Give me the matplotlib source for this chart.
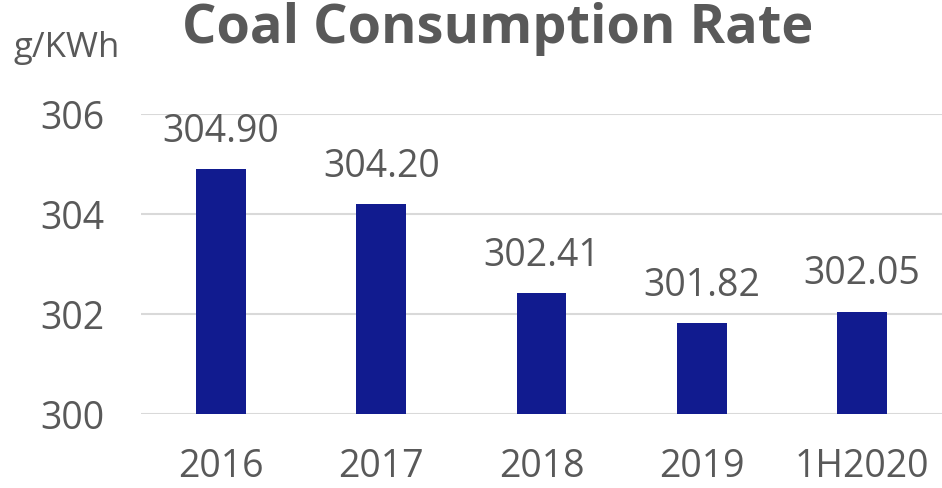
import matplotlib
matplotlib.use("Agg")
import matplotlib.pyplot as plt

categories = ["2016", "2017", "2018", "2019", "1H2020"]
values = [304.90, 304.20, 302.41, 301.82, 302.05]
labels = ["304.90", "304.20", "302.41", "301.82", "302.05"]
yticks = [300, 302, 304, 306]

plt.rcParams['font.family'] = ['Open Sans', 'DejaVu Sans']
TXT = "#595959"
BAR = "#111B8F"

fig = plt.figure(figsize=(9.42, 4.89), dpi=100)
ax = fig.add_axes([141/942, 1-415/489, (942-141)/942, 300/489])

x = list(range(len(categories)))
ax.bar(x, values, width=0.31, color=BAR, bottom=0, zorder=3)
ax.set_ylim(300, 306)
ax.set_xlim(-0.5, len(categories)-0.5)
ax.set_yticks(yticks)
ax.set_yticklabels([str(t) for t in yticks])
ax.set_xticks(x)
ax.set_xticklabels(categories)
ax.tick_params(axis='both', length=0, labelsize=27, colors=TXT)
ax.tick_params(axis='y', pad=26)
ax.tick_params(axis='x', pad=24)
ax.grid(axis='y', color="#D9D9D9", linewidth=1.5, zorder=0)
for s in ax.spines.values():
    s.set_visible(False)

for xi, v, lb in zip(x, values, labels):
    ax.annotate(lb, (xi, v), xytext=(0, 14), textcoords='offset points',
                ha='center', va='bottom', fontsize=27, color=TXT)

fig.text(498/942, 1-29/489, "Coal Consumption Rate", ha='center', va='center',
         fontsize=39, fontweight='bold', color=TXT)
fig.text(13/942, 1-57/489, "g/KWh", ha='left', va='baseline', fontsize=25, color=TXT)

fig.savefig("out.png", dpi=100)
